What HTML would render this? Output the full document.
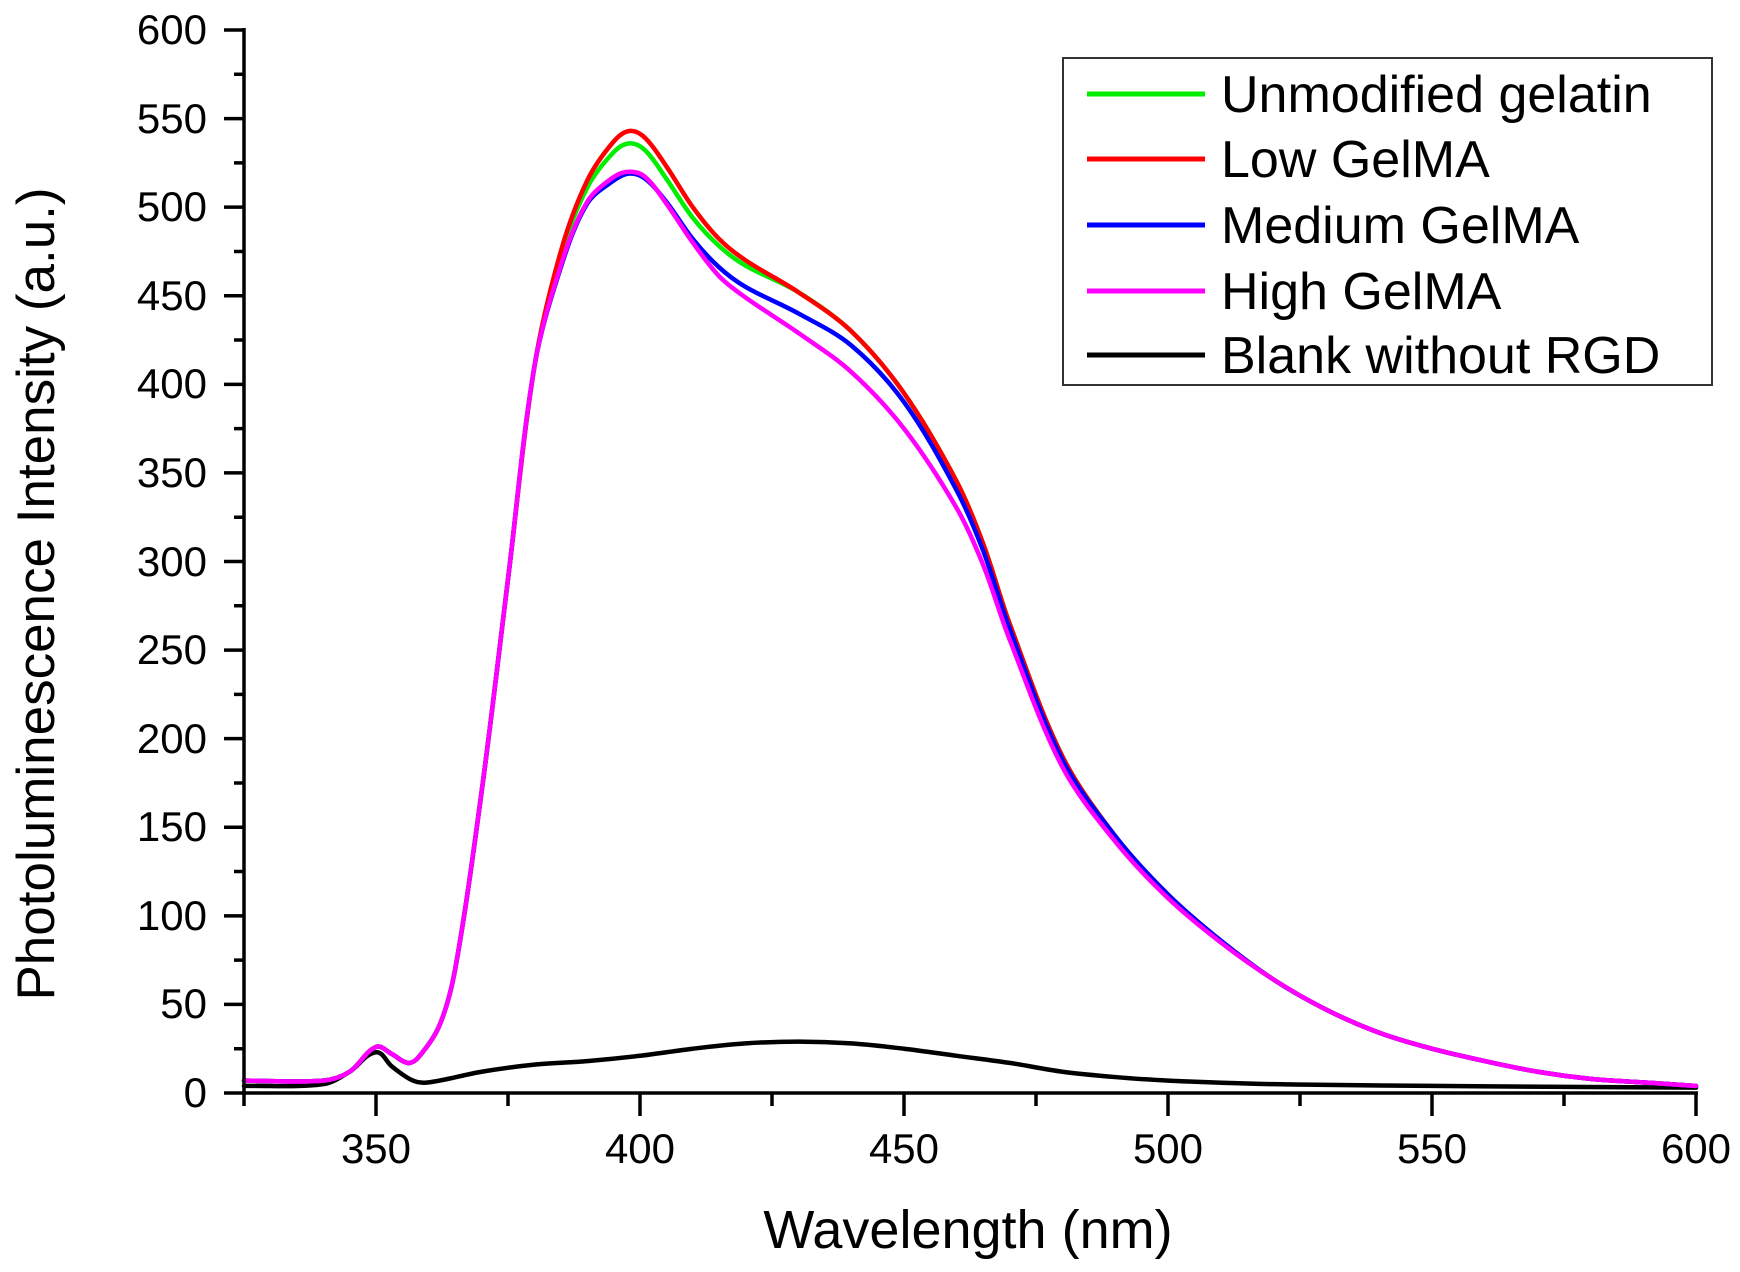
<!DOCTYPE html>
<html><head><meta charset="utf-8"><style>
html,body{margin:0;padding:0;background:#fff;}
svg{display:block;}
text{font-family:"Liberation Sans",Arial,sans-serif;fill:#000;}
</style></head><body>
<svg id="s" width="1740" height="1272" viewBox="0 0 1740 1272" xmlns="http://www.w3.org/2000/svg">
<rect width="1740" height="1272" fill="#fff"/>
<g id="curves" fill="none" stroke-width="4.5" stroke-linejoin="round" stroke-linecap="round"></g>
<g stroke="#000" stroke-width="3.5" fill="none">
<line x1="244" y1="28" x2="244" y2="1095"/>
<line x1="242" y1="1093" x2="1698" y2="1093"/>
<path id="ticks" d=""/>
</g>
<g font-size="42" text-anchor="end">
<text x="207" y="44">600</text><text x="207" y="133">550</text><text x="207" y="221">500</text>
<text x="207" y="310">450</text><text x="207" y="398">400</text><text x="207" y="487">350</text>
<text x="207" y="576">300</text><text x="207" y="664">250</text><text x="207" y="753">200</text>
<text x="207" y="841">150</text><text x="207" y="930">100</text><text x="207" y="1018">50</text>
<text x="207" y="1107">0</text>
</g>
<g font-size="42" text-anchor="middle">
<text x="376" y="1163">350</text><text x="640" y="1163">400</text><text x="904" y="1163">450</text>
<text x="1168" y="1163">500</text><text x="1432" y="1163">550</text><text x="1696" y="1163">600</text>
</g>
<text x="968" y="1248" font-size="54" text-anchor="middle">Wavelength (nm)</text>
<text transform="translate(54,594) rotate(-90)" font-size="53" text-anchor="middle">Photoluminescence Intensity (a.u.)</text>
<rect x="1063" y="58" width="649" height="327" fill="#fff" stroke="#333" stroke-width="2"/>
<g stroke-width="5">
<line x1="1087" y1="94" x2="1205" y2="94" stroke="#00ee00"/>
<line x1="1087" y1="159" x2="1205" y2="159" stroke="#ff0000"/>
<line x1="1087" y1="225" x2="1205" y2="225" stroke="#0000ff"/>
<line x1="1087" y1="291" x2="1205" y2="291" stroke="#ff00ff"/>
<line x1="1087" y1="355" x2="1205" y2="355" stroke="#000"/>
</g>
<g font-size="52">
<text x="1221" y="112">Unmodified gelatin</text>
<text x="1221" y="177">Low GelMA</text>
<text x="1221" y="243">Medium GelMA</text>
<text x="1221" y="309">High GelMA</text>
<text x="1221" y="373">Blank without RGD</text>
</g>
</svg>
<script>
function X(w){return 244+(w-325)*5.28;}
function Y(v){return 1093-v*1063/600;}
var t="";
for(var v=0;v<=600;v+=25){var y=Y(v);t+="M244 "+y+"H"+(v%50==0?224:234);}
for(var w=325;w<=600;w+=25){var x=X(w);t+="M"+x+" 1093V"+(w%50==0?1116:1106);}
document.getElementById("ticks").setAttribute("d",t);
var base=[[325,7],[340,7],[345,12],[350,26],[353,22],[356,17],[358,20],[362,38],[365,70],[370,170],[375,290],[380,410],[385,475],[390,515],[395,537],[398,543],[401,539],[405,523],[410,500],[415,482],[420,470],[430,452],[440,430],[450,395],[460,345],[465,310],[470,265],[480,190],[490,145],[500,112],[510,86],[520,64],[530,47],[540,34],[550,25],[560,18],[570,12],[580,8],[590,6],[600,4]];
function mod(f){return base.map(function(p){return [p[0],f(p[0],p[1])];});}
var green=mod(function(w,v){var m={385:473,390:511,395:531,398:536,401:532,405:516,410:494,415:478,420:467};return m[w]!==undefined?m[w]:v;});
var blue=mod(function(w,v){
 var m={385:466,390:502,395:515,398:519,401:516,405:503,410:482,415:466,420:455,430:440,440:422,450:390,460:340,465:306,470:262,480:188};
 return m[w]!==undefined?m[w]:v;});
var mag=mod(function(w,v){
 var m={385:467,390:503,395:517,398:520,401:517,405:502,410:480,415:461,420:449,430:429,440:407,450:375,460:330,465:298,470:256,480:184,490:142,500:110,510:85};
 return m[w]!==undefined?m[w]:v;});
var black=[[325,4],[340,5],[345,12],[350,23],[353,15],[357,7],[360,6],[370,12],[380,16],[390,18],[400,21],[410,25],[420,28],[430,29],[440,28],[450,25],[460,21],[470,17],[480,12],[490,9],[500,7],[520,5],[550,4],[600,3]];
function path(d){
 var p=d.map(function(q){return [X(q[0]),Y(q[1])];});
 var s="M"+p[0][0]+" "+p[0][1];
 for(var i=0;i<p.length-1;i++){
  var p0=p[i-1]||p[i],p1=p[i],p2=p[i+1],p3=p[i+2]||p2;
  var d1=Math.hypot(p2[0]-p1[0],p2[1]-p1[1]);
  var a=Math.hypot(p2[0]-p0[0],p2[1]-p0[1])||1, b=Math.hypot(p3[0]-p1[0],p3[1]-p1[1])||1;
  var c1x=p1[0]+(p2[0]-p0[0])*d1/a/3,c1y=p1[1]+(p2[1]-p0[1])*d1/a/3;
  var c2x=p2[0]-(p3[0]-p1[0])*d1/b/3,c2y=p2[1]-(p3[1]-p1[1])*d1/b/3;
  s+="C"+c1x+" "+c1y+" "+c2x+" "+c2y+" "+p2[0]+" "+p2[1];
 }
 return s;
}
var g=document.getElementById("curves");
[[black,"#000"],[green,"#00ee00"],[base,"#ff0000"],[blue,"#0000ff"],[mag,"#ff00ff"]].forEach(function(c){
 var e=document.createElementNS("http://www.w3.org/2000/svg","path");
 e.setAttribute("d",path(c[0]));e.setAttribute("stroke",c[1]);g.appendChild(e);
});
</script>
</body></html>
